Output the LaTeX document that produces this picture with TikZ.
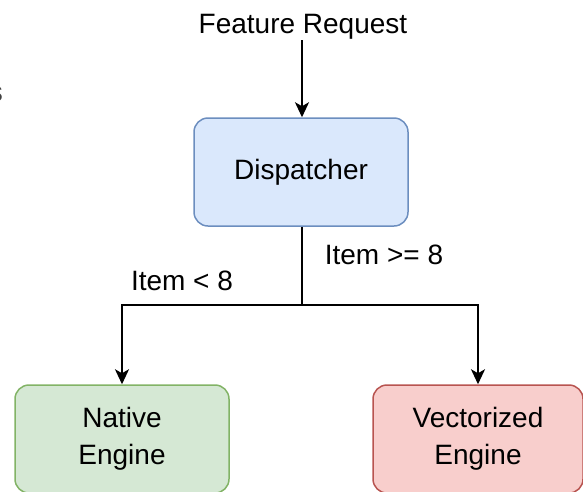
\documentclass[tikz,border=0pt]{standalone}
\usepackage{fontspec}
\setmainfont{Liberation Sans}
\usetikzlibrary{arrows.meta}
\definecolor{bluefill}{HTML}{DAE8FC}
\definecolor{blueline}{HTML}{6C8EBF}
\definecolor{greenfill}{HTML}{D5E8D4}
\definecolor{greenline}{HTML}{82B366}
\definecolor{redfill}{HTML}{F8CECC}
\definecolor{redline}{HTML}{B85450}
\tikzset{
  box/.style={rounded corners=14pt, line width=1.5pt, minimum width=214pt, minimum height=108pt, align=center, inner sep=0pt, font=\fontsize{28}{37}\selectfont},
  lbl/.style={inner sep=0pt, font=\fontsize{28}{34}\selectfont},
  conn/.style={line width=2pt, -{Stealth[length=15pt,width=14pt,inset=4pt]}},
  plain/.style={line width=2pt}
}
\begin{document}
\begin{tikzpicture}[x=1pt,y=-1pt]
\useasboundingbox (0,0) rectangle (583,491);
\begin{scope}
\clip (0,0) rectangle (583,491);
\node[lbl, anchor=base, text=black!75] (s) at (-4,101) {s};
\node[box, fill=bluefill, draw=blueline] (disp) at (301,172) {Dispatcher};
\node[box, fill=greenfill, draw=greenline] (native) at (122,439) {Native\\Engine};
\node[box, fill=redfill, draw=redline, minimum width=210pt] (vect) at (478,439) {Vectorized\\Engine};
\end{scope}
\node[lbl, anchor=base] (feat) at (303,33) {Feature Request};
\coordinate (fr) at (302,40);
\coordinate (split) at (302,305);
\node[lbl, anchor=base] (lt) at (182,290) {Item < 8};
\node[lbl, anchor=base] (ge) at (384,264) {Item >= 8};
\draw[conn] (fr) -- (fr |- disp.north);
\draw[plain] (disp.south -| split) -- (split);
\draw[conn] (split) -| (native.north);
\draw[conn] (split) -| (vect.north);
\end{tikzpicture}
\end{document}
